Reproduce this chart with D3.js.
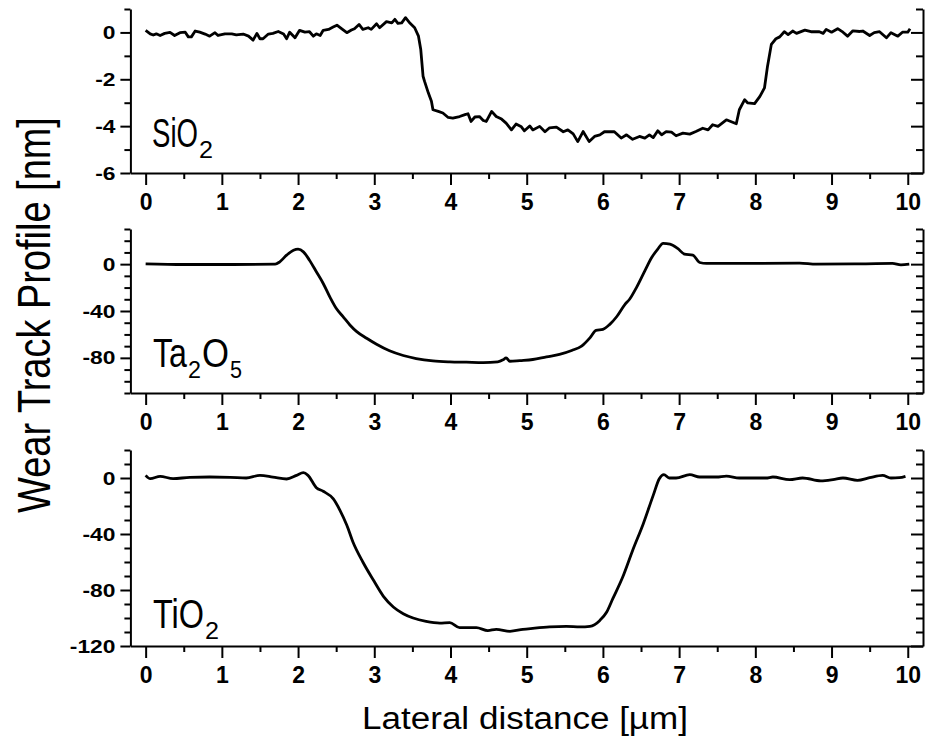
<!DOCTYPE html>
<html>
<head>
<meta charset="utf-8">
<script src="https://cdn.jsdelivr.net/npm/d3@7"></script>
<style>
  body { margin: 0; background: #fff; }
  svg { display: block; }
  text { font-family: "Liberation Sans", Arial, sans-serif; }
</style>
</head>
<body>
<svg width="925" height="744"></svg>
<script>
// SiO2 profile (µm, nm)
const sio2X = [0.00,0.06,0.10,0.14,0.19,0.25,0.32,0.38,0.45,0.52,0.56,0.60,0.65,0.71,0.78,0.84,0.91,0.95,1.04,1.13,1.19,1.28,1.35,1.41,1.46,1.50,1.54,1.61,1.67,1.74,1.81,1.85,1.89,1.96,2.02,2.09,2.15,2.20,2.24,2.29,2.33,2.40,2.46,2.51,2.57,2.64,2.70,2.74,2.80,2.85,2.92,2.96,3.03,3.07,3.16,3.23,3.27,3.31,3.36,3.41,3.47,3.53,3.58,3.61,3.64,3.66,3.71,3.75,3.77,3.84,3.90,3.97,4.03,4.12,4.19,4.23,4.27,4.32,4.38,4.43,4.47,4.54,4.60,4.67,4.73,4.80,4.86,4.93,4.97,5.04,5.08,5.17,5.24,5.30,5.39,5.48,5.54,5.61,5.67,5.74,5.82,5.89,5.96,6.02,6.09,6.15,6.24,6.31,6.39,6.48,6.55,6.61,6.66,6.72,6.77,6.83,6.90,6.96,7.05,7.14,7.22,7.31,7.38,7.44,7.51,7.62,7.75,7.79,7.86,7.90,7.99,8.06,8.12,8.16,8.21,8.27,8.32,8.38,8.43,8.49,8.54,8.65,8.73,8.84,8.89,8.93,9.00,9.08,9.15,9.21,9.28,9.37,9.41,9.50,9.56,9.63,9.72,9.78,9.87,9.93,10.00,10.03];
const sio2Y = [0.09,-0.06,-0.11,-0.06,-0.13,-0.04,0.00,-0.13,-0.01,0.01,-0.19,-0.19,0.06,0.01,-0.07,-0.16,-0.01,-0.13,-0.06,-0.06,-0.10,-0.07,-0.16,-0.33,-0.04,-0.27,-0.27,-0.07,-0.04,0.04,-0.07,-0.27,0.01,-0.23,0.09,0.01,0.03,-0.16,-0.06,-0.13,0.09,0.13,0.23,0.31,0.16,-0.01,0.10,0.16,0.34,0.13,0.20,0.13,0.37,0.20,0.46,0.41,0.56,0.39,0.41,0.63,0.39,0.20,-0.16,-0.73,-1.87,-2.09,-2.59,-2.94,-3.30,-3.37,-3.44,-3.63,-3.66,-3.59,-3.51,-3.47,-3.80,-3.61,-3.59,-3.76,-3.80,-3.37,-3.59,-3.70,-3.87,-4.16,-3.91,-4.03,-4.20,-3.99,-4.16,-4.01,-4.24,-4.07,-4.04,-4.24,-4.16,-4.33,-4.66,-4.23,-4.66,-4.44,-4.37,-4.24,-4.23,-4.24,-4.51,-4.37,-4.56,-4.44,-4.51,-4.37,-4.49,-4.20,-4.37,-4.23,-4.26,-4.41,-4.30,-4.34,-4.23,-4.09,-4.16,-3.94,-4.01,-3.73,-3.90,-3.30,-2.87,-3.01,-3.04,-2.73,-2.37,-1.44,-0.51,-0.27,-0.19,0.03,-0.09,0.06,-0.04,0.10,0.03,0.03,-0.04,0.13,0.01,0.16,0.01,-0.16,0.07,0.04,0.06,-0.13,-0.01,0.03,-0.23,-0.01,-0.16,0.01,0.01,0.16];

// Ta2O5 profile
const ta2o5X = [0.00,0.50,1.15,1.70,1.76,1.85,1.94,2.00,2.07,2.15,2.24,2.33,2.42,2.50,2.59,2.68,2.77,2.90,3.03,3.20,3.38,3.55,3.77,3.99,4.21,4.43,4.62,4.69,4.73,4.78,4.91,5.08,5.26,5.43,5.59,5.72,5.83,5.91,6.00,6.09,6.18,6.29,6.35,6.44,6.55,6.64,6.72,6.79,6.88,6.98,7.07,7.18,7.27,7.36,7.71,8.58,8.80,9.45,9.80,9.91,10.02];
const ta2o5Y = [0.3,-0.3,-0.3,0.0,2.0,7.7,11.9,12.8,10.5,3.4,-6.5,-16.5,-28.4,-37.7,-44.8,-51.9,-57.6,-63.3,-68.4,-74.0,-78.0,-80.6,-82.6,-83.4,-83.7,-84.0,-83.4,-81.7,-80.0,-82.9,-82.3,-81.4,-79.1,-77.1,-73.7,-70.0,-62.9,-56.6,-55.7,-51.4,-44.9,-34.3,-30.0,-20.0,-5.7,5.7,12.9,17.7,17.1,13.4,8.6,7.7,1.4,0.6,0.6,0.9,0.0,0.3,0.6,-0.6,0.0];

// TiO2 profile
const tio2X = [0.00,0.06,0.19,0.36,0.58,0.84,1.11,1.32,1.50,1.67,1.85,1.98,2.07,2.13,2.24,2.33,2.46,2.55,2.64,2.72,2.85,2.99,3.12,3.25,3.38,3.51,3.68,3.86,3.99,4.12,4.34,4.49,4.60,4.78,4.95,5.08,5.30,5.52,5.70,5.83,5.96,6.05,6.13,6.26,6.39,6.53,6.66,6.74,6.80,6.87,6.96,7.14,7.27,7.49,7.62,7.79,8.14,8.23,8.45,8.62,8.86,9.02,9.15,9.34,9.50,9.67,9.78,9.89,9.97];
const tio2Y = [1.9,-0.5,1.2,-0.5,0.5,0.7,0.5,0.0,1.9,0.7,-0.7,1.9,3.8,1.9,-6.9,-9.5,-14.8,-23.1,-33.8,-45.7,-60.0,-73.1,-84.5,-92.1,-96.9,-100.0,-102.4,-103.6,-103.3,-106.9,-106.9,-109.0,-108.1,-109.5,-108.1,-107.4,-106.4,-106.0,-106.4,-106.0,-101.7,-95.7,-86.2,-70.7,-51.7,-32.6,-12.4,-0.5,2.4,0.0,0.0,2.4,0.7,0.7,1.4,0.0,0.0,0.7,-1.2,0.0,-2.1,-1.2,0.0,-1.7,0.2,1.9,0.0,0.2,1.2];

const xTicks = [0,1,2,3,4,5,6,7,8,9,10];
const xMinor = [0.5,1.5,2.5,3.5,4.5,5.5,6.5,7.5,8.5,9.5];

const panels = [
  { xs: sio2X, ys: sio2Y, domain: [-6, 1], major: [0,-2,-4,-6], minor: [1,-1,-3,-5], top: 9, bottom: 173, smooth: false,
    label: [["SiO", 152, 0, 46], ["2", 199, 1, 14]], base: 147 },
  { xs: ta2o5X, ys: ta2o5Y, domain: [-110, 30], major: [0,-40,-80], minor: [30,20,10,-10,-20,-30,-50,-60,-70,-90,-100,-110], top: 229, bottom: 393, smooth: true,
    label: [["Ta", 153, 0, 34], ["2", 188, 1, 13], ["O", 202, 0, 27], ["5", 230, 1, 12]], base: 367 },
  { xs: tio2X, ys: tio2Y, domain: [-120, 20], major: [0,-40,-80,-120], minor: [20,10,-10,-20,-30,-50,-60,-70,-90,-100,-110], top: 450, bottom: 646, smooth: true,
    label: [["TiO", 153, 0, 51], ["2", 205, 1, 14]], base: 628 }
];

const svg = d3.select('svg');
const left = 130.4, right = 923;

const x = d3.scaleLinear().domain([-0.2, 10.2]).range([left, right]);

function styleAxis(g) {
  g.selectAll('path, line').attr('stroke', '#000').attr('stroke-width', 2);
}

// squeeze/stretch a text horizontally to a given width with a transform
function fitText(sel, pre, w) {
  const nat = sel.node().getComputedTextLength();
  sel.attr('transform', pre + ' scale(' + (w / nat) + ',1)');
}

panels.forEach(p => {
  const y = d3.scaleLinear().domain(p.domain).range([p.bottom, p.top]);

  // bottom axis
  svg.append('g').attr('transform', 'translate(0,' + p.bottom + ')')
    .call(d3.axisBottom(x).tickValues(xMinor).tickSize(6).tickSizeOuter(0).tickFormat(''))
    .call(styleAxis);
  const gx = svg.append('g').attr('transform', 'translate(0,' + p.bottom + ')')
    .call(d3.axisBottom(x).tickValues(xTicks).tickSize(12).tickSizeOuter(0).tickPadding(9).tickFormat(d => String(d)))
    .call(styleAxis);
  gx.select('.domain').remove();
  gx.selectAll('text').attr('font-size', 23).attr('font-weight', 'bold').attr('fill', '#000')
    .attr('font-family', '"Liberation Sans", Arial, sans-serif');

  // left axis
  svg.append('g').attr('transform', 'translate(' + left + ',0)')
    .call(d3.axisLeft(y).tickValues(p.minor).tickSize(6).tickSizeOuter(0).tickFormat(''))
    .call(styleAxis);
  const gy = svg.append('g').attr('transform', 'translate(' + left + ',0)')
    .call(d3.axisLeft(y).tickValues(p.major).tickSize(10).tickSizeOuter(0).tickPadding(5).tickFormat(d => String(d)))
    .call(styleAxis);
  gy.select('.domain').remove();
  gy.selectAll('text').attr('font-size', 19).attr('font-weight', 'bold').attr('fill', '#000')
    .attr('font-family', '"Liberation Sans", Arial, sans-serif')
    .each(function() {
      const t = d3.select(this);
      const w = this.getComputedTextLength();
      const tx = +t.attr('x');
      t.attr('x', 0).call(fitText, 'translate(' + tx + ',0)', w * 1.2);
    });

  // right axis, ticks inward
  svg.append('g').attr('transform', 'translate(' + right + ',0)')
    .call(d3.axisLeft(y).tickValues(p.minor).tickSize(7).tickSizeOuter(0).tickFormat(''))
    .call(styleAxis);
  const gr = svg.append('g').attr('transform', 'translate(' + right + ',0)')
    .call(d3.axisLeft(y).tickValues(p.major).tickSize(12).tickSizeOuter(0).tickFormat(''))
    .call(styleAxis);
  gr.select('.domain').remove();

  // profile
  const pts = p.xs.map((v, i) => [v, p.ys[i]]);
  const line = d3.line()
    .x(d => x(d[0]))
    .y(d => y(d[1]))
    .curve(p.smooth ? d3.curveMonotoneX : d3.curveLinear);
  svg.append('path').datum(pts)
    .attr('d', line)
    .attr('fill', 'none')
    .attr('stroke', '#000')
    .attr('stroke-width', 2.8)
    .attr('stroke-linejoin', 'round');

  // material label pieces
  p.label.forEach(([t, lx, sub, w]) => {
    svg.append('text')
      .attr('font-size', sub ? 24 : 40)
      .attr('fill', '#000')
      .text(t)
      .call(fitText, 'translate(' + lx + ',' + (sub ? p.base + 11 : p.base) + ')', w);
  });
});

// axis titles
svg.append('text')
  .attr('text-anchor', 'middle')
  .attr('font-size', 46)
  .text('Wear Track Profile [nm]')
  .call(fitText, 'translate(50,315) rotate(-90)', 396);

svg.append('text')
  .attr('text-anchor', 'middle')
  .attr('font-size', 31)
  .text('Lateral distance [\u00b5m]')
  .call(fitText, 'translate(525,729)', 326);
</script>
</body>
</html>
